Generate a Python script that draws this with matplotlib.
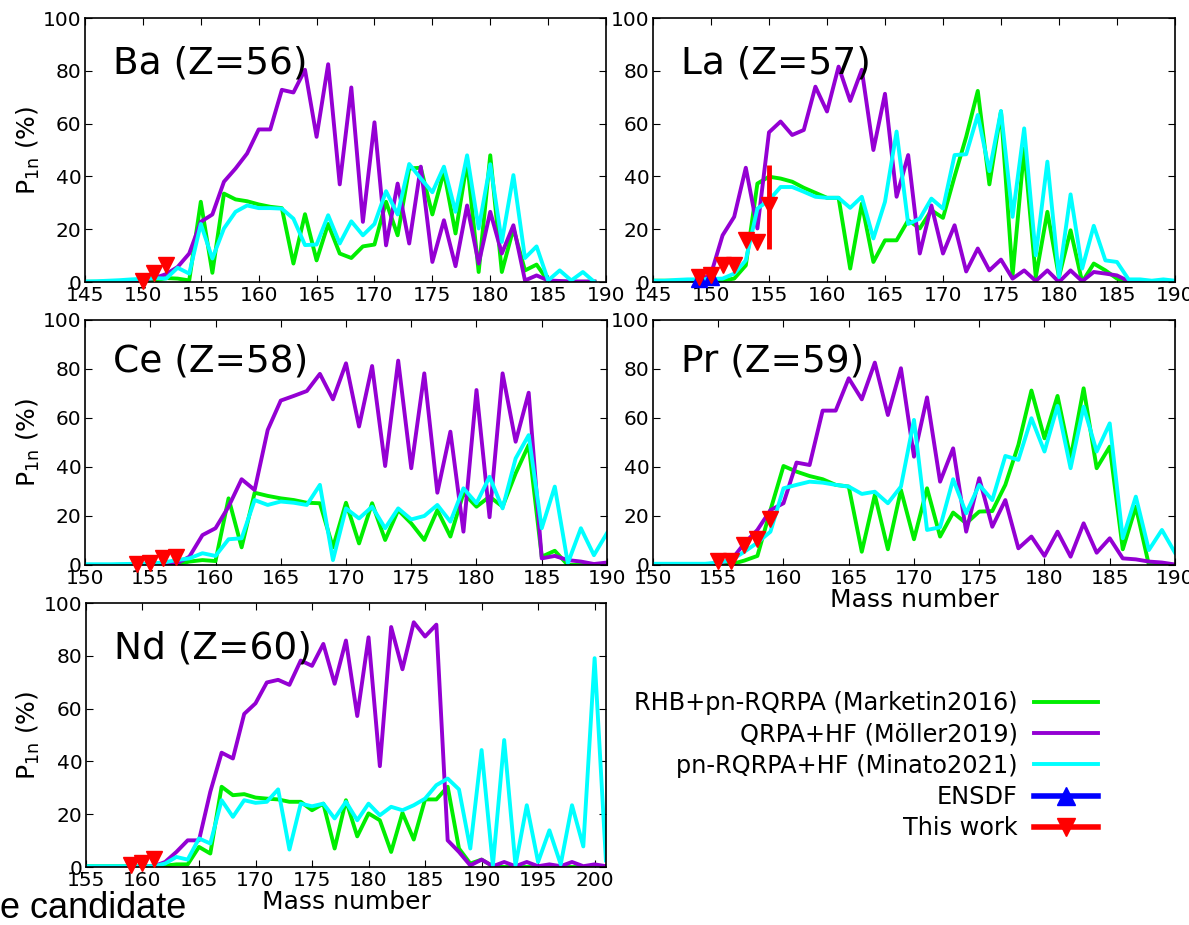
import matplotlib.pyplot as plt
from matplotlib.lines import Line2D

# P1n (%), one value per mass number
ba_mass = list(range(145, 190))
ba_marketin = [0.1, 0.1, 0.1, 0.2, 0.2, 0.3, 0.5, 1.5, 1.3, 0.6,
               30.4, 3.5, 33.5, 31.3, 30.6, 29.4, 28.5, 28.0, 7.0, 25.7,
               8.2, 22.0, 10.8, 9.1, 13.5, 14.2, 30.4, 17.7, 43.0, 43.3,
               25.6, 41.8, 18.4, 45.6, 3.8, 48.0, 3.8, 20.3, 4.4, 6.6,
               0.3, 0.2, 0.1, 0.1, 0.1]
ba_moller = [0.0, 0.0, 0.2, 0.3, 0.5, 0.8, 1.5, 3.0, 5.7, 10.8,
             22.8, 25.6, 38.0, 43.0, 48.7, 57.8, 57.8, 72.8, 71.8, 80.4,
             55.0, 82.5, 37.0, 73.7, 22.8, 60.5, 13.9, 37.3, 14.6, 43.7,
             7.6, 23.4, 6.0, 29.0, 7.0, 26.6, 10.8, 21.5, 0.6, 2.5,
             0.6, 0.4, 0.2, 0.2, 0.2]
ba_minato = [0.2, 0.3, 0.5, 0.7, 1.0, 1.2, 1.5, 1.3, 5.4, 3.2,
             22.0, 8.9, 20.3, 26.6, 29.0, 28.0, 28.0, 27.8, 24.0, 14.0,
             14.2, 25.3, 14.6, 23.0, 17.7, 22.0, 34.4, 25.6, 44.7, 39.2,
             34.0, 43.7, 26.6, 48.0, 20.3, 44.6, 15.2, 40.5, 9.1, 13.5,
             0.6, 4.4, 0.6, 3.8, 0.0]
ba_tw_mass = [150, 151, 152]
ba_tw = [0.5, 3.3, 6.5]

la_mass = list(range(145, 191))
la_marketin = [0.5, 0.5, 0.5, 0.5, 0.5, 0.5, 0.6, 1.3, 6.3, 37.3,
               39.9, 39.2, 38.0, 35.7, 33.8, 31.9, 31.9, 5.1, 29.7, 7.6,
               15.8, 15.8, 23.4, 20.3, 27.2, 24.3, 40.0, 55.0, 72.4, 37.0,
               64.6, 2.5, 50.6, 1.9, 26.6, 1.9, 19.6, 0.0, 7.0, 4.4,
               1.3, 0.2, 0.1, 0.1, 0.1, 0.1]
la_moller = [0.0, 0.0, 0.2, 0.3, 0.5, 3.0, 17.7, 24.7, 43.3, 20.3,
             56.7, 60.8, 55.7, 57.6, 74.0, 64.6, 81.6, 68.6, 80.4, 50.0,
             71.3, 32.3, 48.1, 10.8, 29.0, 10.8, 21.5, 4.0, 12.7, 4.4,
             8.5, 1.3, 4.4, 0.4, 4.4, 0.0, 4.4, 0.3, 3.8, 3.2,
             2.5, 0.3, 0.2, 0.2, 0.2, 0.2]
la_minato = [0.5, 0.5, 0.8, 1.0, 1.0, 1.2, 1.3, 3.2, 8.2, 27.8,
             31.0, 36.0, 36.0, 34.2, 32.3, 31.9, 31.9, 28.1, 32.3, 16.5,
             30.4, 57.0, 22.0, 24.0, 31.6, 27.8, 48.1, 48.4, 63.3, 42.0,
             64.8, 24.7, 58.2, 10.1, 45.6, 1.9, 33.2, 5.1, 21.3, 8.2,
             7.6, 1.0, 1.0, 0.5, 1.0, 0.5]
la_ensdf_mass = [149, 150]
la_ensdf = [1.0, 2.0]
la_tw_mass = [149, 150, 151, 152, 153, 154, 155]
la_tw = [1.9, 2.8, 6.3, 6.6, 15.8, 15.2, 29.1]
la_tw_lo = [0, 0, 0, 0, 0, 0, 16.4]
la_tw_hi = [0, 0, 0, 0, 0, 0, 15.2]

ce_mass = list(range(150, 191))
ce_marketin = [0.0, 0.0, 0.0, 0.1, 0.1, 0.2, 0.3, 0.3, 1.4, 2.0,
               1.6, 27.2, 7.2, 29.5, 28.2, 27.2, 26.5, 25.4, 25.2, 7.2,
               25.4, 8.8, 25.2, 10.2, 22.4, 17.0, 10.2, 22.4, 11.6, 29.3,
               23.8, 27.9, 23.8, 37.4, 49.0, 3.4, 5.8, 0.0, 0.0, 0.0,
               0.0]
ce_moller = [0.0, 0.0, 0.0, 0.0, 0.0, 0.0, 0.2, 0.5, 3.4, 12.2,
             15.0, 23.8, 35.0, 30.6, 55.1, 67.1, 69.0, 71.0, 78.0, 67.6,
             82.3, 56.5, 81.2, 40.4, 83.4, 39.5, 78.2, 29.5, 54.4, 13.6,
             71.4, 19.5, 78.2, 50.3, 70.3, 2.7, 3.7, 2.0, 1.4, 0.4,
             1.0]
ce_minato = [0.3, 0.3, 0.3, 0.4, 0.5, 0.6, 1.0, 2.0, 2.7, 4.8,
             3.7, 10.5, 10.9, 26.5, 24.5, 25.9, 25.4, 24.5, 32.7, 2.0,
             23.1, 19.0, 23.8, 15.0, 23.1, 18.6, 20.0, 24.5, 17.7, 31.3,
             25.2, 36.0, 23.1, 43.5, 53.0, 15.0, 32.0, 0.7, 15.0, 4.0,
             13.0]
ce_tw_mass = [154, 155, 156, 157]
ce_tw = [0.3, 1.0, 2.7, 3.4]

pr_mass = list(range(150, 191))
pr_marketin = [0.3, 0.3, 0.3, 0.3, 0.3, 0.3, 0.3, 1.8, 3.7, 22.4,
               40.4, 38.1, 36.3, 35.0, 32.7, 32.0, 5.4, 28.6, 6.4, 30.6,
               10.5, 31.3, 11.6, 21.4, 17.0, 21.8, 22.0, 32.7, 49.0, 71.2,
               51.7, 69.0, 43.5, 72.1, 39.5, 48.3, 6.4, 23.8, 0.0, 0.0,
               0.0]
pr_moller = [0.0, 0.0, 0.0, 0.0, 0.3, 0.7, 2.0, 8.8, 14.3, 22.4,
             25.2, 41.8, 40.8, 63.0, 63.0, 76.2, 67.6, 82.6, 61.2, 80.3,
             44.2, 68.4, 34.0, 47.6, 13.6, 35.4, 15.6, 26.5, 6.8, 11.6,
             3.7, 13.6, 3.4, 17.0, 5.0, 10.9, 2.7, 2.3, 1.4, 1.0,
             0.2]
pr_minato = [0.5, 0.5, 0.5, 0.5, 0.5, 1.0, 2.0, 5.4, 9.1, 13.6,
             31.3, 32.7, 34.0, 33.6, 32.7, 32.0, 29.0, 29.9, 25.2, 32.0,
             59.2, 14.3, 15.4, 35.0, 21.1, 32.7, 26.5, 44.5, 42.9, 59.9,
             46.3, 64.9, 39.5, 64.6, 46.3, 57.8, 10.9, 27.9, 6.1, 14.3,
             5.0]
pr_tw_mass = [155, 156, 157, 158, 159]
pr_tw = [1.5, 1.5, 8.2, 10.5, 18.6]

nd_mass = list(range(155, 202))
nd_marketin = [0.3, 0.3, 0.3, 0.3, 0.3, 0.3, 0.3, 0.5, 1.0, 1.0,
               7.6, 5.1, 30.4, 27.2, 27.6, 26.3, 25.9, 25.6, 24.7, 24.7,
               21.5, 24.0, 7.0, 25.3, 11.6, 20.3, 17.7, 5.7, 20.5, 10.4,
               25.6, 25.6, 30.4, 7.0, 1.3, 2.8, 0.3, 0.0, 0.0, 0.0,
               0.0, 0.0, 0.0, 0.0, 0.0, 0.0, 0.0]
nd_moller = [0.0, 0.0, 0.0, 0.0, 0.0, 0.0, 0.3, 1.9, 5.7, 10.1,
             10.1, 28.5, 43.3, 41.1, 58.0, 62.0, 69.9, 70.9, 69.0, 78.2,
             76.2, 84.5, 69.4, 85.8, 57.2, 87.0, 38.2, 90.9, 74.9, 92.7,
             87.3, 91.8, 10.1, 5.7, 0.6, 2.8, 0.3, 1.9, 0.3, 1.9,
             0.3, 1.0, 0.3, 1.9, 0.3, 1.0, 0.3]
nd_minato = [0.3, 0.3, 0.3, 0.3, 0.3, 0.3, 0.3, 1.3, 3.8, 2.8,
             10.8, 8.9, 25.3, 19.0, 25.3, 24.3, 24.7, 29.4, 6.6, 24.0,
             23.0, 24.0, 18.4, 24.7, 17.7, 24.0, 19.6, 22.8, 21.5, 23.4,
             25.9, 31.0, 33.5, 29.4, 7.0, 44.3, 0.6, 48.1, 0.6, 23.4,
             1.9, 13.9, 1.0, 23.4, 7.8, 79.1, 2.5]
nd_tw_mass = [159, 160, 161]
nd_tw = [0.6, 1.5, 3.2]

GREEN = '#00ee00'
PURPLE = '#9400d3'
CYAN = '#00ffff'

fig = plt.figure(figsize=(11.89, 9.25), dpi=100)


def panel(rect, mass, mk, mo, mi, xlim, xt, name, ylab=True, xlab=False):
    ax = fig.add_axes(rect)
    ax.plot(mass, mk, color=GREEN, lw=2.8)
    ax.plot(mass, mo, color=PURPLE, lw=2.8)
    ax.plot(mass, mi, color=CYAN, lw=2.8)
    ax.set_xlim(xlim)
    ax.set_ylim(0, 100)
    ax.set_xticks(xt)
    ax.set_yticks(range(0, 101, 20))
    ax.tick_params(direction='in', top=True, right=True, length=5,
                   labelsize=14.5, pad=3)
    ax.tick_params(axis='y', pad=2.5)
    for s in ax.spines.values():
        s.set_linewidth(1.2)
    ax.text(0.054, 0.79, name, transform=ax.transAxes, fontsize=27,
            ha='left', va='baseline')
    if ylab:
        ax.set_ylabel(r'P$_{\mathrm{1n}}$ (%)', fontsize=18, labelpad=1)
    if xlab:
        ax.set_xlabel('Mass number', fontsize=18, labelpad=0)
    return ax


ax_ba = panel([0.0715, 0.6951, 0.4382, 0.2854], ba_mass, ba_marketin, ba_moller,
              ba_minato, (145, 190), range(145, 191, 5), 'Ba (Z=56)')
ax_ba.plot(ba_tw_mass, ba_tw, 'v', color='red', ms=12, clip_on=False, zorder=5)

ax_la = panel([0.5492, 0.6951, 0.4390, 0.2854], la_mass, la_marketin, la_moller,
              la_minato, (145, 190), range(145, 191, 5), 'La (Z=57)', ylab=False)
ax_la.plot(la_ensdf_mass, la_ensdf, '^', color='blue', ms=11, clip_on=False, zorder=4)
ax_la.errorbar(la_tw_mass, la_tw, yerr=[la_tw_lo, la_tw_hi], fmt='v', color='red',
               ms=12, elinewidth=3.5, capsize=0, clip_on=False, zorder=5)

ax_ce = panel([0.0715, 0.3892, 0.4390, 0.2649], ce_mass, ce_marketin, ce_moller,
              ce_minato, (150, 190), range(150, 191, 5), 'Ce (Z=58)')
ax_ce.plot(ce_tw_mass, ce_tw, 'v', color='red', ms=12, clip_on=False, zorder=5)

ax_pr = panel([0.5492, 0.3892, 0.4390, 0.2649], pr_mass, pr_marketin, pr_moller,
              pr_minato, (150, 190), range(150, 191, 5), 'Pr (Z=59)',
              ylab=False, xlab=True)
ax_pr.plot(pr_tw_mass, pr_tw, 'v', color='red', ms=12, clip_on=False, zorder=5)

ax_nd = panel([0.0723, 0.0627, 0.4373, 0.2854], nd_mass, nd_marketin, nd_moller,
              nd_minato, (155, 201), range(155, 201, 5), 'Nd (Z=60)', xlab=True)
ax_nd.plot(nd_tw_mass, nd_tw, 'v', color='red', ms=12, clip_on=False, zorder=5)

handles = [Line2D([], [], color=GREEN, lw=2.8),
           Line2D([], [], color=PURPLE, lw=2.8),
           Line2D([], [], color=CYAN, lw=2.8),
           Line2D([], [], color='blue', lw=4, marker='^', ms=13),
           Line2D([], [], color='red', lw=4, marker='v', ms=13)]
labels = ['RHB+pn-RQRPA (Marketin2016)', 'QRPA+HF (Möller2019)',
          'pn-RQRPA+HF (Minato2021)', 'ENSDF', 'This work']
fig.legend(handles, labels, loc='center right', bbox_to_anchor=(0.9235, 0.172),
           frameon=False, markerfirst=False, fontsize=17.3, handlelength=2.65,
           handletextpad=0.7, labelspacing=0.3, borderpad=0, borderaxespad=0)

fig.text(0.0, 0.0076, 'e candidate', fontsize=26, family='Liberation Sans',
         ha='left', va='baseline')

fig.savefig('out.png', dpi=100)
